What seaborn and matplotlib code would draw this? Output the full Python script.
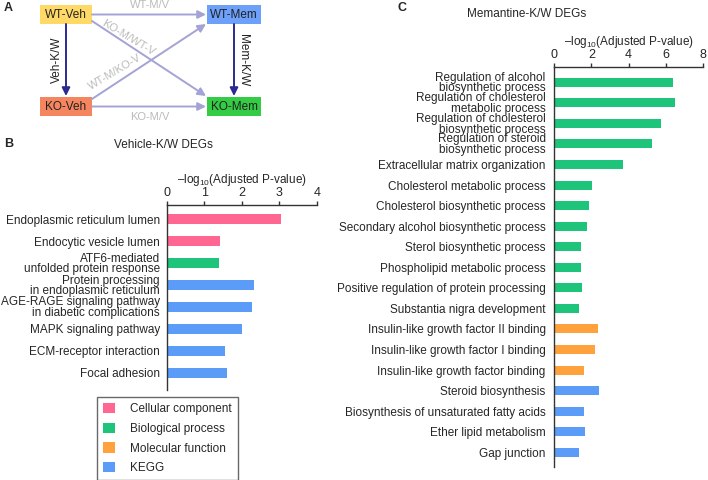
import matplotlib
matplotlib.use("Agg")
import matplotlib.pyplot as plt
import seaborn as sns
import pandas as pd
from matplotlib.patches import Patch, Rectangle

# ---------------- data ----------------
cats = ["Cellular component", "Biological process", "Molecular function", "KEGG"]
cat_colors = ["#FF6692", "#1DC47A", "#FFA23E", "#5A9CF8"]

b_terms = ["Endoplasmic reticulum lumen", "Endocytic vesicle lumen",
           "ATF6-mediated\nunfolded protein response",
           "Protein processing\nin endoplasmic reticulum",
           "AGE-RAGE signaling pathway\nin diabetic complications",
           "MAPK signaling pathway", "ECM-receptor interaction", "Focal adhesion"]
b_values = [3.05, 1.41, 1.40, 2.32, 2.27, 2.01, 1.56, 1.60]
b_cats = ["Cellular component", "Cellular component", "Biological process",
          "KEGG", "KEGG", "KEGG", "KEGG", "KEGG"]

c_terms = ["Regulation of alcohol\nbiosynthetic process",
           "Regulation of cholesterol\nmetabolic process",
           "Regulation of cholesterol\nbiosynthetic process",
           "Regulation of steroid\nbiosynthetic process",
           "Extracellular matrix organization",
           "Cholesterol metabolic process",
           "Cholesterol biosynthetic process",
           "Secondary alcohol biosynthetic process",
           "Sterol biosynthetic process",
           "Phospholipid metabolic process",
           "Positive regulation of protein processing",
           "Substantia nigra development",
           "Insulin-like growth factor II binding",
           "Insulin-like growth factor I binding",
           "Insulin-like growth factor binding",
           "Steroid biosynthesis",
           "Biosynthesis of unsaturated fatty acids",
           "Ether lipid metabolism",
           "Gap junction"]
c_values = [6.36, 6.46, 5.71, 5.23, 3.68, 2.05, 1.86, 1.79, 1.46, 1.46, 1.50,
            1.34, 2.38, 2.20, 1.63, 2.43, 1.63, 1.64, 1.32]
c_cats = ["Biological process"] * 12 + ["Molecular function"] * 3 + ["KEGG"] * 4

b_ticks = [0, 1, 2, 3, 4]
c_ticks = [0, 2, 4, 6, 8]

# ---------------- style ----------------
sns.set_theme(style="white")
plt.rcParams["font.family"] = ["Liberation Sans", "DejaVu Sans"]
plt.rcParams["mathtext.fontset"] = "custom"
plt.rcParams["mathtext.rm"] = "Liberation Sans"
plt.rcParams["mathtext.it"] = "Liberation Sans"

W, H = 708, 480
fig = plt.figure(figsize=(W / 100, H / 100), dpi=100)
pal = dict(zip(cats, cat_colors))

# overlay axes in pixel coordinates for diagram and panel labels
ov = fig.add_axes([0, 0, 1, 1])
ov.set_xlim(0, W)
ov.set_ylim(H, 0)
ov.axis("off")

light = "#A3A3D6"
dark = "#2B2B8F"
gray = "#BBBBBB"
boxes = {
    "WT-Veh": ((40, 5), "#FFD966"),
    "WT-Mem": ((207, 5), "#6CA0FA"),
    "KO-Veh": ((40, 97), "#F5855E"),
    "KO-Mem": ((207, 97), "#33CC44"),
}
for name, ((x0, y0), col) in boxes.items():
    w = 52 if "Veh" in name else 54
    ov.add_patch(Rectangle((x0, y0), w, 19, facecolor=col, edgecolor="none"))
    ov.text(x0 + w / 2, y0 + 9.5, name, ha="center", va="center", fontsize=8.5, color="#222222")


def arrow(p0, p1, col):
    ov.annotate("", xy=p1, xytext=p0,
                arrowprops=dict(arrowstyle="-|>", color=col, lw=1.4,
                                mutation_scale=12, shrinkA=0, shrinkB=0))


arrow((92, 14.5), (206, 14.5), light)
arrow((92, 106.5), (206, 106.5), light)
arrow((92, 21), (206, 96), light)
arrow((92, 99), (206, 24), light)
arrow((66, 24), (66, 96), dark)
arrow((234, 24), (234, 96), dark)
ov.text(150, 5, "WT-M/V", ha="center", va="center", fontsize=8, color=gray)
ov.text(150, 117, "KO-M/V", ha="center", va="center", fontsize=8, color=gray)
ov.text(128, 38, "KO-M/WT-V", ha="center", va="center", fontsize=8, color=gray, rotation=-31)
ov.text(115, 72, "WT-M/KO-V", ha="center", va="center", fontsize=8, color=gray, rotation=31)
ov.text(57, 60, "Veh-K/W", ha="center", va="center", fontsize=8.5, color="#222222", rotation=90)
ov.text(243, 60, "Mem-K/W", ha="center", va="center", fontsize=8.5, color="#222222", rotation=270)

ov.text(4, 8, "A", fontsize=9, fontweight="bold", ha="left", va="center")
ov.text(4, 144, "B", fontsize=9, fontweight="bold", ha="left", va="center")
ov.text(398, 8, "C", fontsize=9, fontweight="bold", ha="left", va="center")
ov.text(163, 145, "Vehicle-K/W DEGs", fontsize=8.5, ha="center", va="center")
ov.text(527, 14, "Memantine-K/W DEGs", fontsize=8.5, ha="center", va="center")


def px_axes(left, right, top, bottom):
    return fig.add_axes([left / W, 1 - bottom / H, (right - left) / W, (bottom - top) / H])


def bar_panel(ax, terms, values, cs, ticks, width, ylim, pad):
    df = pd.DataFrame({"term": terms, "value": values, "cat": cs})
    sns.barplot(data=df, y="term", x="value", hue="cat", hue_order=cats, order=terms,
                palette=pal, dodge=False, width=width, ax=ax, legend=False,
                saturation=1, edgecolor="none")
    ax.set_xlim(ticks[0], ticks[-1])
    ax.set_ylim(*ylim)
    ax.set_xticks(ticks)
    ax.xaxis.tick_top()
    ax.xaxis.set_label_position("top")
    ax.set_xlabel(r"–log$_{10}$(Adjusted P-value)", fontsize=8.5, labelpad=3)
    ax.set_ylabel("")
    for s in ["right", "bottom"]:
        ax.spines[s].set_visible(False)
    for s in ["top", "left"]:
        ax.spines[s].set_color("#333333")
        ax.spines[s].set_linewidth(1.0)
    ax.tick_params(axis="x", top=True, length=3, width=1, color="#333333",
                   labelsize=9, pad=1, direction="out")
    ax.tick_params(axis="y", left=False, length=0, pad=pad, labelsize=8.5)
    for lab in ax.get_yticklabels():
        lab.set_linespacing(0.85)
    ax.set_facecolor("none")


axB = px_axes(166.7, 317, 205, 390)
bar_panel(axB, b_terms, b_values, b_cats, b_ticks, 0.46, (7.79, -0.65), 5)

axC = px_axes(554, 703.3, 67, 466.7)
bar_panel(axC, c_terms, c_values, c_cats, c_ticks, 0.44, (18.70, -0.744), 6)

handles = [Patch(facecolor=c, edgecolor="none") for c in cat_colors]
leg = fig.legend(handles, cats, loc="upper left", bbox_to_anchor=(97 / W, 1 - 397 / H),
                 fontsize=8.5, frameon=True, fancybox=False, handlelength=1.0,
                 handleheight=1.0, handletextpad=1.3, labelspacing=0.62,
                 borderpad=0.5, borderaxespad=0)
leg.get_frame().set_edgecolor("#444444")
leg.get_frame().set_linewidth(1.0)

fig.savefig("out.png", dpi=100)
